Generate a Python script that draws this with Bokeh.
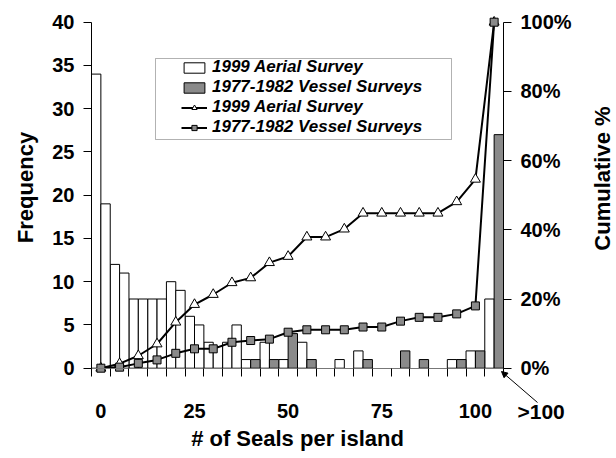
import numpy as np
from bokeh.plotting import figure
from bokeh.models import (Range1d, LinearAxis, FixedTicker, Legend, LegendItem,
                          Label, Arrow, NormalHead, BoxAnnotation)
from bokeh.embed import file_html
from bokeh.resources import INLINE

# ---------------- data ----------------
bins = ["0", "5", "10", "15", "20", "25", "30", "35", "40", "45", "50",
        "55", "60", "65", "70", "75", "80", "85", "90", "95", "100", ">100"]
# white bars, left half of each bin (1999 Aerial Survey)
aerial_freq = [34, 12, 8, 8, 10, 6, 3, 3, 1, 3, 1, 3, 0, 1, 2, 0, 0, 0, 0, 1, 2, 8]
# white bars drawn in the right half of the first bins
aerial_freq_b = [19, 11, 8, 8, 9, 5, 2.5, 5]
# grey bars, right half of each bin (1977-1982 Vessel Surveys)
vessel_freq = [0, 0, 0, 0, 0, 0, 0, 0, 1, 1, 4, 1, 0, 0, 1, 0, 2, 1, 0, 1, 2, 27]
# cumulative percentages
aerial_cum = [0, 1.3, 3.6, 7.0, 13.3, 18.4, 21.3, 24.7, 26.1, 30.5, 32.3,
              37.9, 37.9, 40.2, 44.8, 44.8, 44.8, 44.8, 44.8, 48.1, 54.6, 100]
vessel_cum = [0, 0.3, 1.4, 2.4, 4.3, 5.6, 5.6, 7.5, 8.0, 8.4, 10.4,
              11.1, 11.1, 11.1, 11.9, 11.9, 13.6, 14.7, 14.7, 15.7, 18.0, 100]
x_tick_pos = [0, 5, 10, 15, 20]
x_tick_labels = ["0", "25", "50", "75", "100"]
freq_ticks = [0, 5, 10, 15, 20, 25, 30, 35, 40]
pct_ticks = [0, 20, 40, 60, 80, 100]
pct_labels = ["0%", "20%", "40%", "60%", "80%", "100%"]

FONT = "Liberation Sans"
GREY = "#8a8a8a"
W, H = 616, 458

# geometry of the plot area in canvas pixels
PX_LEFT, PX_RIGHT = 91.0, 503.0      # left / right axis lines
PX_ZERO, PX_TOP = 367.7, 21.7        # y of 0 and of 40
n = len(bins)
xu = (PX_RIGHT - PX_LEFT) / n        # px per bin
yu = (PX_ZERO - PX_TOP) / 40.0       # px per frequency unit


def dx(px):
    return (px - PX_LEFT) / xu - 0.5


def dy(py):
    return (PX_ZERO - py) / yu


idx = np.arange(n)

p = figure(width=W, height=H, x_range=Range1d(dx(0), dx(W)),
           y_range=Range1d(dy(H), dy(0)),
           x_axis_type=None, y_axis_type=None,
           output_backend="svg", toolbar_location=None,
           min_border_left=0, min_border_right=0, min_border_top=0,
           min_border_bottom=0)
p.extra_y_ranges = {"pct": Range1d(dy(H) * 2.5, dy(0) * 2.5)}
p.outline_line_color = None

# bars
a = np.array(aerial_freq, dtype=float)
m = a > 0
r_aer = p.vbar(x=(idx - 0.25)[m], top=a[m], width=0.5, fill_color="white",
               line_color="black", line_width=1)
ab = np.array(aerial_freq_b, dtype=float)
p.vbar(x=idx[:len(ab)] + 0.25, top=ab, width=0.5, fill_color="white",
       line_color="black", line_width=1)
v = np.array(vessel_freq, dtype=float)
mv = v > 0
r_ves = p.vbar(x=(idx + 0.25)[mv], top=v[mv], width=0.5, fill_color=GREY,
               line_color="black", line_width=1)

# cumulative lines
l_aer = p.line(idx, aerial_cum, y_range_name="pct", line_color="black", line_width=2)
s_aer = p.scatter(idx, aerial_cum, y_range_name="pct", marker="triangle", size=10,
                  fill_color="white", line_color="black", line_width=1)
l_ves = p.line(idx, vessel_cum, y_range_name="pct", line_color="black", line_width=2)
s_ves = p.scatter(idx, vessel_cum, y_range_name="pct", marker="square", size=8,
                  fill_color=GREY, line_color="black", line_width=1)


def style(ax, standoff):
    ax.major_label_standoff = standoff
    ax.major_label_text_font = FONT
    ax.major_label_text_font_style = "bold"
    ax.major_label_text_font_size = "20px"
    ax.major_label_text_color = "black"


# bottom axis
xa = LinearAxis(fixed_location=0, bounds=(-0.5, n - 0.5),
                ticker=FixedTicker(ticks=x_tick_pos,
                                   minor_ticks=list(np.arange(n + 1) - 0.5)))
xa.major_label_overrides = {k: t for k, t in zip(x_tick_pos, x_tick_labels)}
xa.major_tick_out = 0
xa.major_tick_in = 0
xa.minor_tick_out = 8
xa.minor_tick_in = 0
xa.minor_tick_line_color = "black"
xa.axis_line_color = "#777777"
style(xa, 28)
p.add_layout(xa, "below")

# left axis
ya = LinearAxis(fixed_location=-0.5, bounds=(0, 40),
                ticker=FixedTicker(ticks=freq_ticks))
ya.major_tick_out = 8
ya.major_tick_in = 0
ya.minor_tick_out = 0
ya.minor_tick_in = 0
style(ya, 9)
p.add_layout(ya, "left")

# right axis
ra = LinearAxis(y_range_name="pct", fixed_location=n - 0.5, bounds=(0, 100),
                ticker=FixedTicker(ticks=pct_ticks))
ra.major_label_overrides = {k: t for k, t in zip(pct_ticks, pct_labels)}
ra.major_tick_out = 8
ra.major_tick_in = 0
ra.minor_tick_out = 0
ra.minor_tick_in = 0
style(ra, 9)
p.add_layout(ra, "right")

# axis titles
title_kw = dict(text_font=FONT, text_font_style="bold", text_font_size="22px",
                text_color="black", text_align="center", text_baseline="middle")
p.add_layout(Label(x=dx(25), y=dy(187), text="Frequency", angle=np.pi / 2, **title_kw))
p.add_layout(Label(x=dx(602), y=dy(178), text="Cumulative %", angle=np.pi / 2, **title_kw))
p.add_layout(Label(x=dx(297), y=dy(438), text="# of Seals per island", **title_kw))

# >100 label and arrow
p.add_layout(Label(x=dx(517), y=dy(411), text=">100", text_align="left",
                   text_baseline="middle", text_font=FONT, text_color="black",
                   text_font_style="bold", text_font_size="21px"))
p.add_layout(Arrow(end=NormalHead(size=6, fill_color="black", line_color="black"),
                   x_start=dx(537), y_start=dy(402), x_end=dx(501), y_end=dy(371),
                   line_color="black", line_width=1))

# legend box + legend
p.add_layout(BoxAnnotation(left=dx(155), right=dx(451), top=dy(58), bottom=dy(139),
                           fill_color="white", fill_alpha=1,
                           line_color="black", line_width=1))
legend = Legend(items=[
    LegendItem(label="1999 Aerial Survey", renderers=[r_aer]),
    LegendItem(label="1977-1982 Vessel Surveys", renderers=[r_ves]),
    LegendItem(label="1999 Aerial Survey", renderers=[l_aer, s_aer]),
    LegendItem(label="1977-1982 Vessel Surveys", renderers=[l_ves, s_ves]),
], location=(181, 321), padding=0, margin=0, spacing=0,
    glyph_width=26, glyph_height=13, label_height=19, label_standoff=5,
    label_text_font=FONT, label_text_font_style="bold italic",
    label_text_font_size="17px", label_text_color="black",
    border_line_color=None, background_fill_alpha=0)
p.add_layout(legend, "center")

open("out.html", "w").write(file_html(p, INLINE))
